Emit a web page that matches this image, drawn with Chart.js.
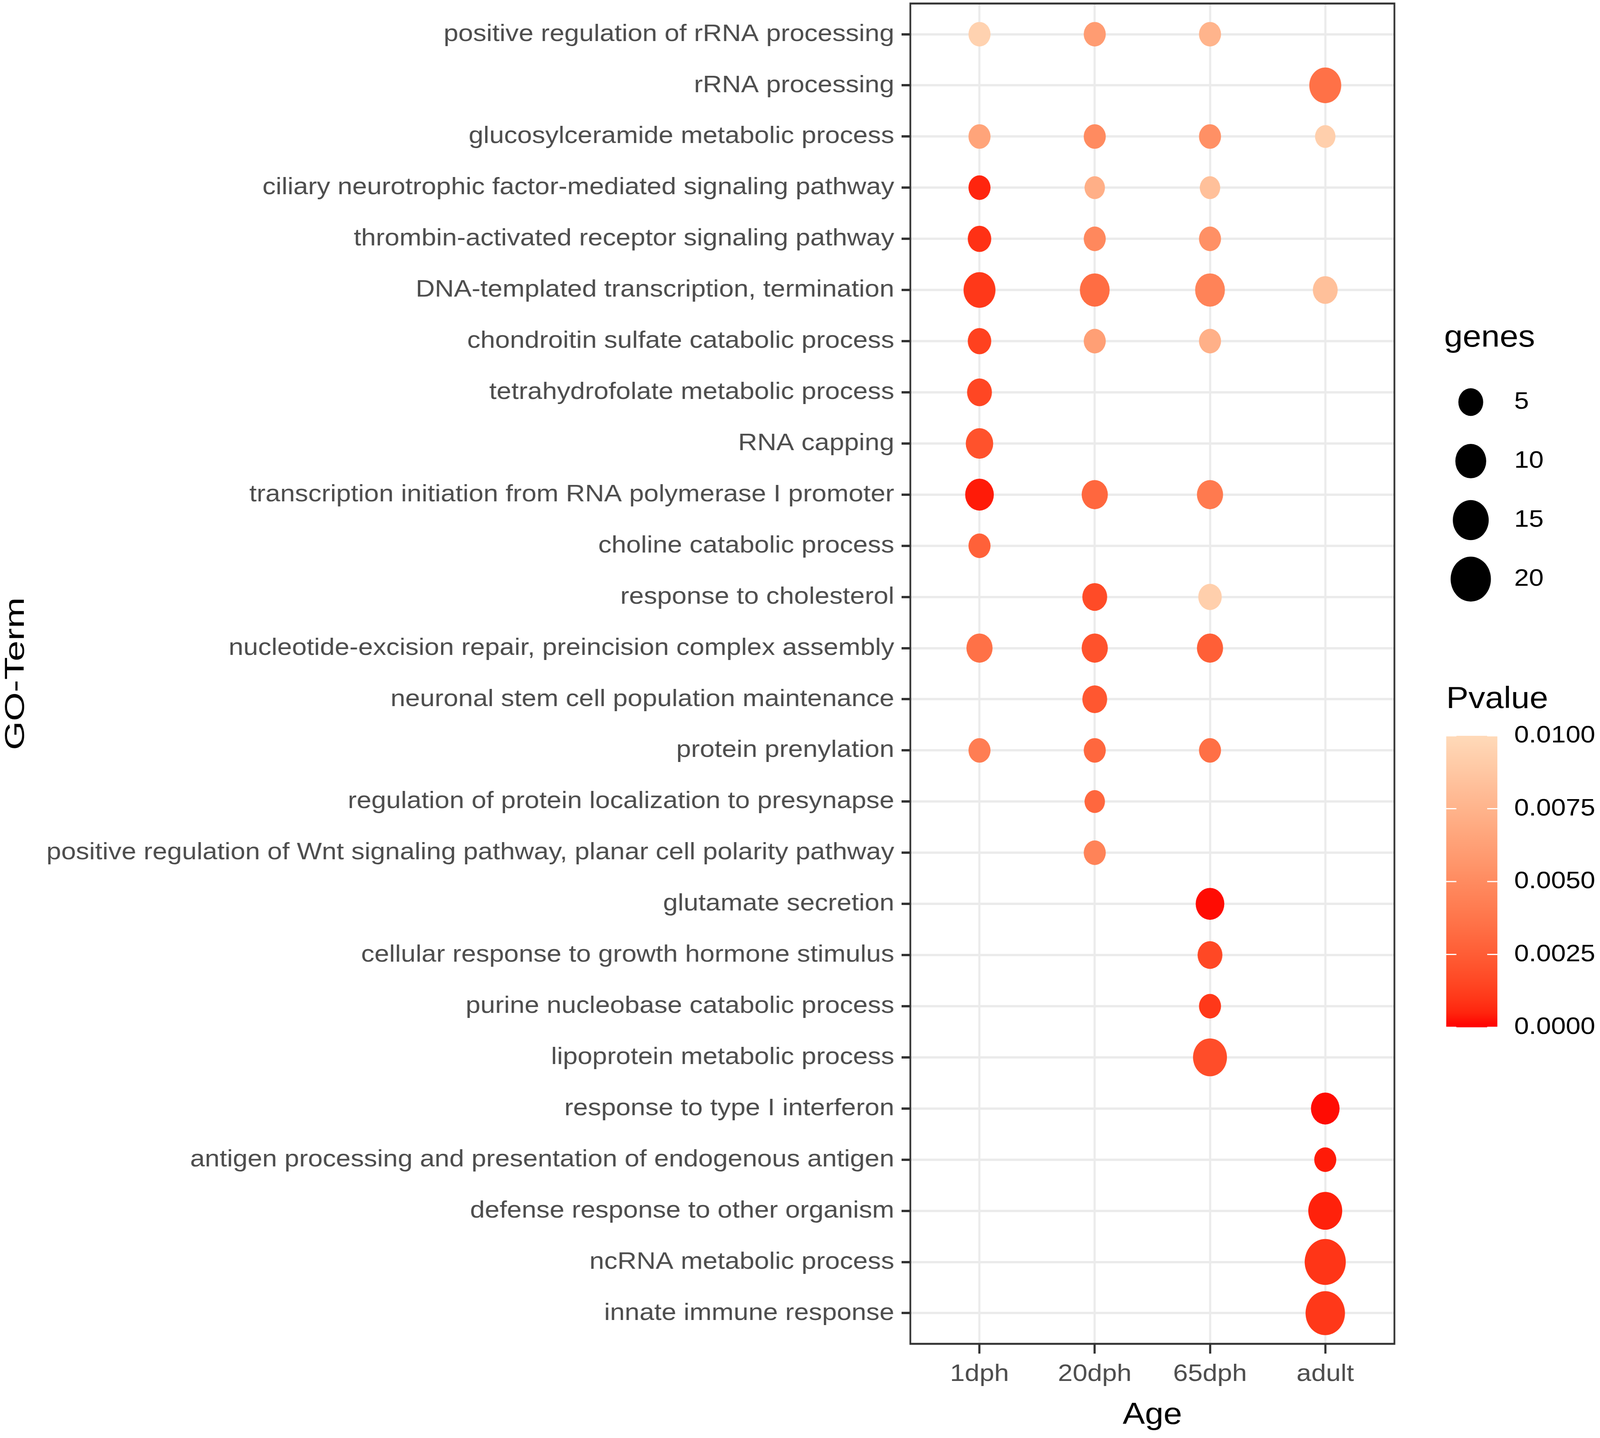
<!DOCTYPE html>
<html>
<head>
<meta charset="utf-8">
<script src="https://cdn.jsdelivr.net/npm/chart.js@4.4.1/dist/chart.umd.min.js"></script>
<style>
  html, body { margin: 0; padding: 0; background: #fff; overflow: hidden; }
  canvas { display: block; }
</style>
</head>
<body>
<canvas id="goChart" width="4568" height="3680" style="width:100vw;height:100vh"></canvas>
<script>
const terms = [
  'positive regulation of rRNA processing',
  'rRNA processing',
  'glucosylceramide metabolic process',
  'ciliary neurotrophic factor-mediated signaling pathway',
  'thrombin-activated receptor signaling pathway',
  'DNA-templated transcription, termination',
  'chondroitin sulfate catabolic process',
  'tetrahydrofolate metabolic process',
  'RNA capping',
  'transcription initiation from RNA polymerase I promoter',
  'choline catabolic process',
  'response to cholesterol',
  'nucleotide-excision repair, preincision complex assembly',
  'neuronal stem cell population maintenance',
  'protein prenylation',
  'regulation of protein localization to presynapse',
  'positive regulation of Wnt signaling pathway, planar cell polarity pathway',
  'glutamate secretion',
  'cellular response to growth hormone stimulus',
  'purine nucleobase catabolic process',
  'lipoprotein metabolic process',
  'response to type I interferon',
  'antigen processing and presentation of endogenous antigen',
  'defense response to other organism',
  'ncRNA metabolic process',
  'innate immune response'
]
const ages = ['1dph', '20dph', '65dph', 'adult']

// genes and p-value per term, one list per age (null = term not found)
const genes1dph = [3, null, 3, 3, 4, 11, 4, 5, 7, 8, 3, null, 6, null, 3, null, null, null, null, null, null, null, null, null, null, null]
const pval1dph = [0.0095, null, 0.0065, 0.0005, 0.0008, 0.001, 0.0013, 0.0015, 0.002, 0.0003, 0.0027, null, 0.0035, null, 0.0042, null, null, null, null, null, null, null, null, null, null, null]

const genes20dph = [3, null, 3, 2, 3, 9, 3, null, null, 6, null, 5, 6, 5, 3, 2, 3, null, null, null, null, null, null, null, null, null]
const pval20dph = [0.006, null, 0.005, 0.0072, 0.0048, 0.0033, 0.0062, null, null, 0.003, null, 0.0017, 0.002, 0.0022, 0.003, 0.003, 0.0045, null, null, null, null, null, null, null, null, null]

const genes65dph = [3, null, 3, 2, 3, 9, 3, null, null, 6, null, 4, 6, null, 3, null, null, 8, 5, 3, 13, null, null, null, null, null]
const pval65dph = [0.0075, null, 0.0053, 0.0083, 0.0053, 0.0045, 0.0073, null, null, 0.004, null, 0.0093, 0.0026, null, 0.0034, null, null, 0.0001, 0.0016, 0.001, 0.0018, null, null, null, null, null]

const genesAdult = [null, 11, 2, null, null, 5, null, null, null, null, null, null, null, null, null, null, null, null, null, null, null, 8, 3, 13, 21, 19]
const pvalAdult = [null, 0.0035, 0.0093, null, null, 0.0083, null, null, null, null, null, null, null, null, null, null, null, null, null, null, null, 0.0001, 0.0003, 0.0004, 0.0009, 0.001]

const sizeBreaks = [5, 10, 15, 20]
const pvalBreaks = [0, 0.0025, 0.005, 0.0075, 0.01]
const pvalMax = 0.01

const lowColor = '#FF0000'
const highColor = '#FFDAB9'
const FONT = "'Liberation Sans', Arial, sans-serif"
const SX = 1.22

// point area grows with gene count
const radius = g => Math.sqrt(2313 + 545.6 * g) / 2

const toLin = c => c <= 0.04045 ? c / 12.92 : Math.pow((c + 0.055) / 1.055, 2.4)
const fromLin = c => c <= 0.0031308 ? 12.92 * c : 1.055 * Math.pow(c, 1 / 2.4) - 0.055
const fLab = t => t > 0.008856 ? Math.cbrt(t) : 7.787 * t + 16 / 116
const fInv = t => t * t * t > 0.008856 ? t * t * t : (t - 16 / 116) / 7.787
const clamp01 = v => Math.min(1, Math.max(0, v))

function hexToLab(hex) {
  const r = toLin(parseInt(hex.slice(1, 3), 16) / 255)
  const g = toLin(parseInt(hex.slice(3, 5), 16) / 255)
  const b = toLin(parseInt(hex.slice(5, 7), 16) / 255)
  const X = (0.4124 * r + 0.3576 * g + 0.1805 * b) / 0.95047
  const Y = 0.2126 * r + 0.7152 * g + 0.0722 * b
  const Z = (0.0193 * r + 0.1192 * g + 0.9505 * b) / 1.08883
  const fx = fLab(X), fy = fLab(Y), fz = fLab(Z)
  return [116 * fy - 16, 500 * (fx - fy), 200 * (fy - fz)]
}

function labToRgb(L, a, b) {
  const fy = (L + 16) / 116
  const X = 0.95047 * fInv(fy + a / 500)
  const Y = fInv(fy)
  const Z = 1.08883 * fInv(fy - b / 200)
  const rgb = [
    3.2406 * X - 1.5372 * Y - 0.4986 * Z,
    -0.9689 * X + 1.8758 * Y + 0.0415 * Z,
    0.0557 * X - 0.2040 * Y + 1.0570 * Z
  ].map(c => Math.round(clamp01(fromLin(clamp01(c))) * 255))
  return 'rgb(' + rgb.join(',') + ')'
}

const labLow = hexToLab(lowColor)
const labHigh = hexToLab(highColor)

function pvalColor(p) {
  const t = clamp01(p / pvalMax)
  return labToRgb(
    labLow[0] + (labHigh[0] - labLow[0]) * t,
    labLow[1] + (labHigh[1] - labLow[1]) * t,
    labLow[2] + (labHigh[2] - labLow[2]) * t
  )
}

const canvas = document.getElementById('goChart')
const ctx = canvas.getContext('2d')

// the reference text is wider than Arial at its height, so stretch it along its run
const fillTextOrig = ctx.fillText
ctx.fillText = function (text, x, y) {
  this.save()
  this.translate(x, y)
  this.scale(SX, 1)
  fillTextOrig.call(this, text, 0, 0)
  this.restore()
}
const measureOrig = ctx.measureText
ctx.measureText = function (text) {
  const m = measureOrig.call(this, text)
  return {
    width: m.width * SX,
    actualBoundingBoxAscent: m.actualBoundingBoxAscent,
    actualBoundingBoxDescent: m.actualBoundingBoxDescent
  }
}

const genesBySeries = [genes1dph, genes20dph, genes65dph, genesAdult]
const pvalBySeries = [pval1dph, pval20dph, pval65dph, pvalAdult]

const datasets = ages.map((age, i) => {
  const pts = []
  terms.forEach((term, j) => {
    const g = genesBySeries[i][j]
    if (g != null) pts.push({ x: i + 1, y: j + 1, r: radius(g), genes: g, p: pvalBySeries[i][j] })
  })
  return {
    label: age,
    data: pts,
    backgroundColor: c => c.raw ? pvalColor(c.raw.p) : lowColor,
    borderWidth: 0,
    hoverBorderWidth: 0
  }
})

const panelBorder = {
  id: 'panelBorder',
  afterDatasetsDraw(chart) {
    const c = chart.ctx
    const a = chart.chartArea
    c.save()
    c.strokeStyle = '#333333'
    c.lineWidth = 5
    c.strokeRect(a.left, a.top, a.right - a.left, a.bottom - a.top)
    c.restore()
  }
}

const sideLegends = {
  id: 'sideLegends',
  afterDraw(chart) {
    const c = chart.ctx
    c.save()
    c.textAlign = 'left'
    c.textBaseline = 'middle'
    c.fillStyle = '#000'

    c.font = '78px ' + FONT
    c.fillText('genes', 4123, 865)
    sizeBreaks.forEach((g, i) => {
      const y = 1029 + i * 151
      c.beginPath()
      c.arc(4199, y, radius(g), 0, Math.PI * 2)
      c.fill()
      c.font = '62px ' + FONT
      c.fillText(String(g), 4323, y)
    })

    c.font = '78px ' + FONT
    c.fillText('Pvalue', 4129, 1790)

    const top = 1883, bottom = 2629, left = 4129, w = 146
    const grad = c.createLinearGradient(0, bottom, 0, top)
    for (let k = 0; k <= 20; k++) grad.addColorStop(k / 20, pvalColor(pvalMax * k / 20))
    c.fillStyle = grad
    c.fillRect(left, top, w, bottom - top)

    c.font = '62px ' + FONT
    pvalBreaks.forEach(v => {
      const y = bottom - (v / pvalMax) * (bottom - top)
      c.strokeStyle = '#fff'
      c.lineWidth = 3
      c.beginPath()
      c.moveTo(left, y); c.lineTo(left + 29, y)
      c.moveTo(left + w - 29, y); c.lineTo(left + w, y)
      c.stroke()
      c.fillStyle = '#000'
      c.fillText(v.toFixed(4), 4323, y)
    })
    c.restore()
  }
}

const tickFont = { family: FONT, size: 62, lineHeight: 1.2 }
const titleFont = { family: FONT, size: 78, lineHeight: 1.2 }

new Chart(ctx, {
  type: 'bubble',
  data: { datasets: datasets },
  options: {
    responsive: false,
    devicePixelRatio: 1,
    animation: false,
    events: [],
    layout: { autoPadding: false, padding: { left: 0, top: 9, right: 587, bottom: 0 } },
    plugins: {
      legend: { display: false },
      tooltip: { enabled: false }
    },
    scales: {
      x: {
        type: 'linear',
        min: 0.4,
        max: 4.6,
        afterBuildTicks: s => { s.ticks = ages.map((a, i) => ({ value: i + 1 })) },
        afterFit: s => { s.height = 241; s.paddingLeft = 0; s.paddingRight = 0 },
        grid: { color: '#EBEBEB', lineWidth: 6, tickLength: 25, tickColor: '#333333', tickWidth: 6 },
        border: { display: false },
        ticks: { callback: v => ages[v - 1], color: '#4D4D4D', font: tickFont, padding: 16, maxRotation: 0, autoSkip: false },
        title: { display: true, text: 'Age', color: '#000', font: titleFont, padding: { top: 0, bottom: 11 } }
      },
      y: {
        type: 'linear',
        reverse: true,
        min: 0.4,
        max: 26.6,
        afterBuildTicks: s => { s.ticks = terms.map((t, i) => ({ value: i + 1 })) },
        afterFit: s => { s.width = 2599; s.paddingTop = 0; s.paddingBottom = 0 },
        grid: { color: '#EBEBEB', lineWidth: 6, tickLength: 25, tickColor: '#333333', tickWidth: 6 },
        border: { display: false },
        ticks: { callback: v => terms[v - 1], color: '#4D4D4D', font: tickFont, padding: 21, autoSkip: false },
        title: { display: true, text: 'GO-Term', color: '#000', font: titleFont, padding: 0 }
      }
    }
  },
  plugins: [panelBorder, sideLegends]
})
</script>
</body>
</html>
